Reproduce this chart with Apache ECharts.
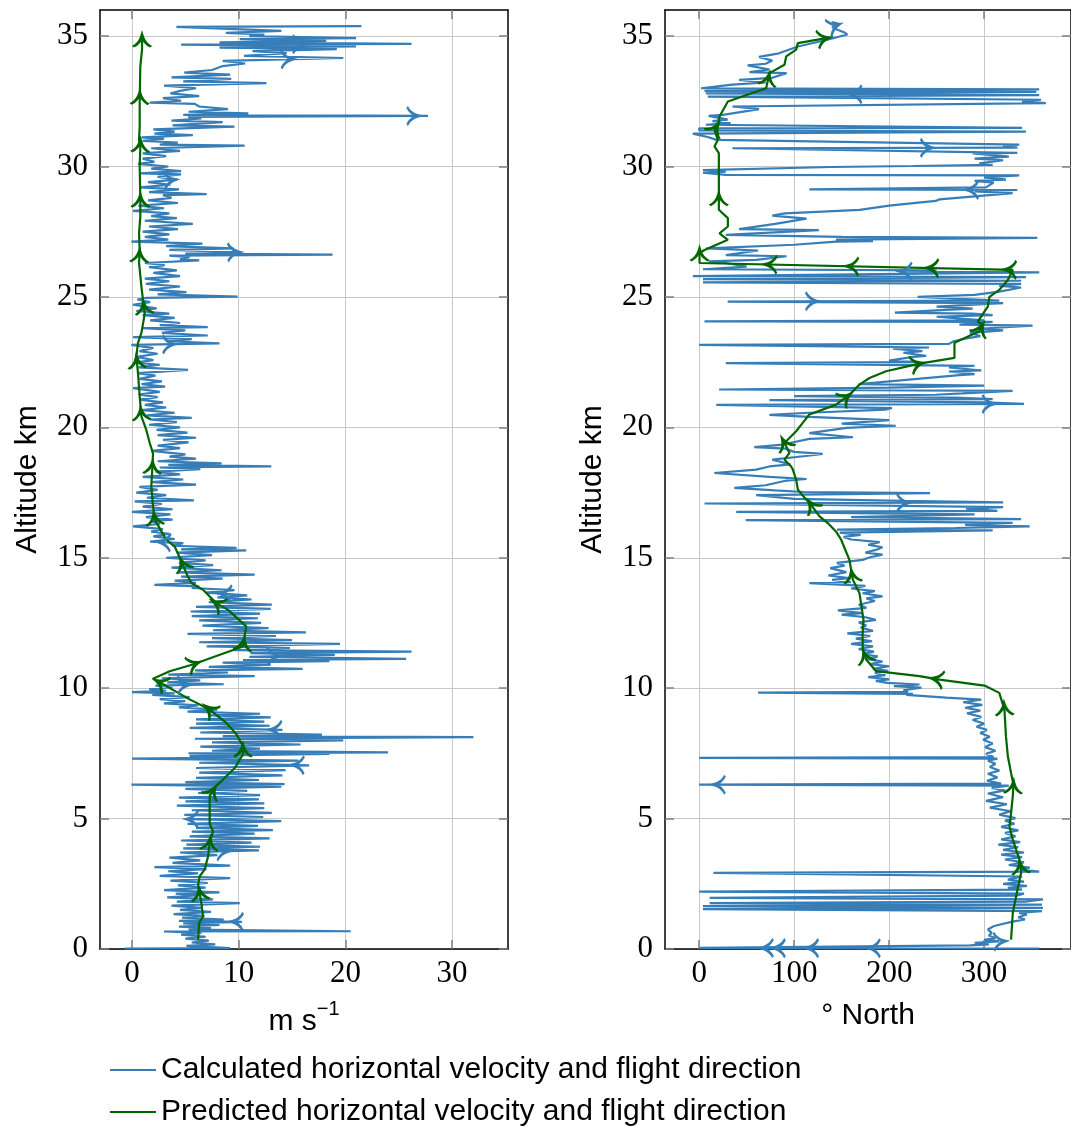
<!DOCTYPE html>
<html><head><meta charset="utf-8">
<script src="https://cdn.jsdelivr.net/npm/echarts@6/dist/echarts.min.js"></script>
<style>html,body{margin:0;padding:0;background:#fff}#c{width:1071px;height:1127px}</style>
</head><body><div id="c"></div>
<script>
// ---------- tick labels ----------
const speedTicks = [0, 10, 20, 30];
const dirTicks = [0, 100, 200, 300];
const altTicks = [0, 5, 10, 15, 20, 25, 30, 35];

// ---------- series names ----------
const calcName = 'Calculated horizontal velocity and flight direction';
const predName = 'Predicted horizontal velocity and flight direction';

// ---------- calculated horizontal speed [m/s, altitude km] ----------
const calcSpeed = [
[-0.7,0.02],[9.2,0.03],[5.1,0.12],[7.8,0.18],[5.6,0.25],[7.2,0.32],[5.0,0.4],[6.9,0.47],[4.6,0.55],[6.5,0.62],[3.0,0.67],[20.5,0.68],[5.3,0.74],[7.4,0.8],[4.4,0.86],[8.2,0.92],[4.8,0.98],[10.3,1.04],[4.4,1.08],[8.6,1.13],[4.7,1.2],[6.8,1.27],[3.9,1.34],[7.4,1.42],[4.5,1.5],[6.6,1.58],[3.7,1.66],[10.1,1.76],[4.2,1.82],[7.6,1.9],[3.3,1.98],[6.4,2.06],[4.1,2.12],[8.2,2.17],[3.0,2.26],[6.9,2.35],[4.3,2.44],[7.1,2.53],[3.6,2.62],[9.2,2.72],[2.6,2.8],[6.2,2.9],[3.4,2.98],[7.0,3.06],[2.1,3.14],[9.2,3.2],[3.8,3.3],[6.4,3.4],[3.5,3.5],[8.0,3.6],[4.5,3.7],[11.9,3.78],[4.8,3.86],[12.0,3.92],[5.1,4.0],[11.2,4.08],[4.6,4.16],[12.9,4.24],[5.4,4.32],[11.5,4.42],[5.6,4.5],[13.2,4.56],[6.0,4.64],[11.8,4.72],[5.2,4.8],[14.0,4.9],[5.4,4.98],[12.3,5.06],[4.9,5.14],[13.1,5.22],[5.6,5.32],[12.4,5.4],[4.2,5.5],[12.4,5.58],[5.0,5.66],[11.9,5.74],[4.4,5.8],[12.0,5.9],[6.2,5.98],[10.8,6.06],[5.0,6.14],[14.0,6.22],[-0.06,6.3],[14.3,6.32],[5.0,6.4],[11.9,6.48],[6.0,6.56],[14.1,6.66],[6.3,6.76],[14.4,6.86],[6.0,6.94],[16.6,7.04],[6.3,7.14],[15.6,7.22],[0.0,7.3],[10.1,7.34],[5.4,7.4],[18.5,7.48],[5.3,7.5],[24.0,7.54],[7.5,7.6],[12.0,7.68],[6.4,7.76],[15.8,7.84],[7.5,7.92],[19.8,8.0],[5.9,8.06],[32.0,8.12],[8.5,8.16],[17.8,8.22],[6.4,8.3],[14.1,8.4],[5.4,8.48],[12.9,8.56],[6.0,8.64],[12.4,8.72],[6.0,8.8],[13.0,8.88],[7.3,8.96],[12.0,9.02],[5.2,9.1],[8.0,9.18],[4.4,9.26],[6.2,9.34],[3.0,9.42],[5.0,9.5],[2.6,9.58],[5.4,9.66],[1.9,9.74],[4.0,9.8],[0.0,9.85],[3.2,9.9],[1.6,9.96],[3.8,10.04],[2.2,10.1],[8.6,10.15],[3.3,10.22],[6.4,10.3],[2.8,10.38],[11.5,10.46],[3.4,10.52],[9.0,10.6],[5.9,10.68],[16.0,10.74],[7.2,10.82],[13.0,10.9],[8.5,10.98],[18.5,11.04],[10.4,11.08],[25.7,11.12],[11.0,11.2],[19.0,11.28],[11.1,11.34],[26.2,11.4],[9.5,11.46],[14.8,11.54],[7.0,11.6],[19.5,11.7],[6.3,11.76],[15.0,11.84],[7.5,11.92],[13.5,12.0],[5.2,12.08],[16.3,12.14],[7.6,12.22],[12.8,12.3],[6.6,12.4],[12.1,12.5],[6.3,12.6],[11.8,12.68],[5.6,12.76],[12.0,12.86],[5.5,12.94],[13.0,13.04],[6.0,13.12],[13.1,13.2],[7.2,13.3],[11.2,13.4],[8.0,13.48],[10.8,13.56],[6.9,13.66],[9.6,13.76],[5.6,13.84],[6.3,13.9],[2.1,13.96],[6.0,14.04],[4.0,14.12],[8.5,14.2],[4.6,14.28],[11.5,14.35],[4.3,14.44],[8.4,14.52],[3.7,14.62],[7.6,14.72],[4.4,14.8],[6.9,14.9],[3.2,15.0],[7.5,15.1],[4.2,15.2],[10.7,15.28],[4.6,15.32],[9.8,15.38],[3.8,15.46],[4.8,15.56],[1.7,15.62],[4.0,15.72],[2.0,15.82],[3.5,15.92],[1.8,16.0],[2.9,16.1],[0.1,16.2],[2.6,16.3],[1.7,16.4],[3.8,16.46],[1.3,16.56],[3.6,16.66],[0.0,16.76],[3.8,16.86],[1.0,16.96],[2.8,17.06],[0.25,17.16],[5.8,17.2],[1.4,17.3],[3.2,17.4],[0.4,17.5],[2.4,17.6],[0.7,17.72],[6.0,17.8],[1.8,17.9],[4.8,18.0],[1.0,18.1],[4.5,18.2],[2.2,18.3],[6.4,18.4],[2.6,18.46],[13.06,18.5],[3.4,18.56],[8.4,18.62],[2.4,18.7],[6.0,18.8],[3.5,18.88],[5.0,18.96],[1.8,19.1],[4.5,19.2],[2.4,19.3],[5.3,19.42],[2.9,19.52],[6.0,19.6],[2.4,19.7],[5.2,19.8],[2.3,19.9],[4.5,20.0],[1.6,20.1],[4.2,20.2],[1.7,20.3],[5.6,20.36],[1.4,20.46],[4.0,20.56],[0.9,20.66],[3.2,20.76],[1.2,20.86],[2.9,20.96],[0.7,21.06],[2.4,21.16],[0.6,21.26],[2.6,21.36],[0.1,21.5],[3.1,21.56],[0.9,21.66],[2.8,21.76],[0.7,21.86],[2.2,21.98],[0.5,22.08],[5.25,22.2],[0.6,22.3],[2.6,22.4],[0.25,22.48],[2.0,22.58],[0.4,22.7],[2.4,22.82],[0.7,22.92],[2.0,23.04],[-0.06,23.16],[8.2,23.22],[3.4,23.3],[5.6,23.38],[0.1,23.46],[7.1,23.52],[2.8,23.62],[5.0,23.72],[1.0,23.8],[7.1,23.84],[2.6,23.92],[4.5,24.0],[1.7,24.1],[4.0,24.2],[1.0,24.3],[3.5,24.36],[0.4,24.46],[2.3,24.56],[0.1,24.7],[1.7,24.8],[0.5,24.9],[1.3,24.96],[9.9,25.01],[2.4,25.1],[5.1,25.18],[1.6,25.28],[4.5,25.4],[1.3,25.5],[3.5,25.6],[1.2,25.7],[4.5,25.8],[2.0,25.92],[4.2,26.02],[1.6,26.14],[3.06,26.22],[1.2,26.3],[6.3,26.4],[4.5,26.45],[5.4,26.52],[3.5,26.58],[18.8,26.62],[5.0,26.66],[10.0,26.72],[3.5,26.8],[9.5,26.86],[3.2,26.95],[6.6,27.04],[-0.06,27.12],[3.4,27.2],[1.2,27.3],[3.5,27.4],[1.0,27.5],[4.3,27.6],[1.6,27.7],[5.7,27.8],[1.2,27.92],[4.2,28.02],[1.8,28.1],[3.5,28.2],[0.1,28.3],[3.0,28.4],[0.6,28.5],[4.3,28.6],[1.5,28.7],[3.7,28.8],[2.9,28.9],[7.0,28.94],[1.6,29.02],[4.4,29.12],[0.7,29.2],[3.6,29.3],[1.5,29.4],[4.2,29.5],[2.4,29.6],[4.6,29.7],[0.7,29.74],[4.6,29.82],[1.8,29.92],[3.4,30.0],[0.56,30.1],[2.1,30.18],[1.0,30.3],[3.2,30.4],[1.0,30.5],[4.5,30.6],[1.8,30.7],[10.56,30.8],[2.6,30.84],[4.3,30.92],[1.0,30.98],[3.0,31.06],[0.9,31.12],[5.7,31.2],[2.1,31.26],[4.0,31.34],[2.0,31.42],[9.6,31.53],[3.8,31.58],[8.5,31.7],[3.7,31.76],[6.5,31.84],[5.25,31.9],[27.75,31.94],[4.8,31.98],[10.9,32.04],[5.3,32.1],[9.0,32.2],[6.3,32.3],[5.9,32.4],[1.66,32.45],[4.6,32.52],[2.9,32.62],[6.3,32.7],[3.6,32.8],[4.5,32.9],[6.0,33.0],[3.0,33.1],[12.6,33.2],[4.8,33.26],[9.3,33.36],[3.7,33.42],[9.2,33.52],[4.9,33.6],[7.5,33.7],[8.5,33.85],[10.6,33.95],[8.5,34.05],[19.8,34.16],[10.5,34.24],[14.5,34.35],[11.3,34.42],[19.2,34.5],[8.2,34.56],[21.0,34.6],[4.6,34.67],[26.2,34.7],[8.2,34.76],[18.2,34.82],[10.1,34.88],[21.0,34.92],[11.0,35.0],[12.4,35.06],[8.8,35.12],[14.0,35.2],[4.16,35.35],[21.5,35.38]
];

// ---------- predicted horizontal speed [m/s, altitude km] ----------
const predSpeed = [
[6.19,0.36],[6.3,1.0],[6.66,1.25],[6.5,1.76],[6.34,2.15],[6.2,2.47],[6.34,2.79],[6.8,3.04],[7.13,3.55],[7.28,4.07],[7.6,4.51],[7.28,4.8],[7.28,5.47],[7.28,5.86],[7.75,6.18],[8.53,6.5],[9.63,6.94],[10.4,7.46],[10.4,7.77],[9.8,8.22],[8.84,8.67],[7.28,9.18],[5.4,9.57],[3.22,10.08],[1.97,10.36],[3.53,10.65],[5.7,10.91],[7.9,11.23],[10.4,11.6],[10.7,12.37],[9.0,13.0],[7.9,13.26],[6.66,13.77],[5.56,14.03],[5.1,14.4],[4.7,14.8],[4.0,15.43],[3.2,15.7],[2.13,16.46],[1.97,16.97],[1.81,17.74],[1.9,18.38],[1.97,19.0],[1.66,19.4],[1.34,19.9],[0.88,20.42],[0.72,21.19],[0.56,22.08],[0.41,22.72],[0.56,23.24],[0.88,23.62],[1.1,24.13],[1.19,24.37],[1.03,24.88],[0.88,25.4],[0.66,26.3],[0.72,26.8],[0.66,27.44],[0.78,28.08],[0.78,28.72],[0.72,30.0],[0.78,30.77],[0.66,31.02],[0.72,31.53],[0.72,32.56],[0.78,33.84],[0.94,34.48],[0.94,34.92]
];

// ---------- calculated flight direction [deg North, altitude km] ----------
const calcDir = [
[358,0.02],[0,0.04],[285,0.14],[305,0.18],[290,0.24],[316,0.29],[300,0.35],[312,0.42],[305,0.52],[308,0.62],[304,0.75],[310,0.87],[318,0.95],[330,1.05],[343,1.13],[336,1.22],[345,1.32],[337,1.38],[361,1.45],[4,1.53],[362,1.58],[4,1.64],[361,1.7],[11,1.76],[345,1.82],[362,1.9],[11,1.96],[335,2.05],[342,2.12],[0,2.2],[340,2.28],[325,2.34],[345,2.42],[320,2.5],[342,2.58],[325,2.66],[340,2.78],[15,2.92],[358,2.97],[338,3.04],[348,3.12],[326,3.22],[342,3.32],[322,3.43],[340,3.52],[318,3.62],[342,3.7],[320,3.8],[336,3.9],[315,4.0],[338,4.1],[318,4.2],[333,4.32],[322,4.45],[336,4.55],[318,4.68],[332,4.8],[322,4.92],[333,5.02],[316,5.15],[328,5.28],[306,5.42],[324,5.55],[302,5.68],[320,5.82],[304,5.96],[322,6.08],[308,6.18],[326,6.26],[0,6.3],[318,6.34],[303,6.45],[314,6.58],[304,6.72],[316,6.84],[306,6.98],[312,7.1],[304,7.22],[314,7.3],[0,7.33],[310,7.36],[302,7.48],[312,7.6],[301,7.74],[309,7.88],[299,8.02],[306,8.14],[296,8.28],[303,8.4],[292,8.52],[300,8.64],[288,8.78],[297,8.9],[282,9.04],[296,9.14],[280,9.25],[298,9.36],[278,9.46],[297,9.56],[260,9.64],[218,9.74],[225,9.78],[62,9.83],[220,9.86],[215,9.92],[234,10.02],[205,10.08],[232,10.14],[198,10.2],[186,10.28],[200,10.34],[178,10.42],[196,10.5],[185,10.58],[199,10.66],[183,10.74],[200,10.84],[180,10.92],[193,11.02],[176,11.12],[188,11.22],[172,11.3],[184,11.4],[168,11.5],[183,11.6],[160,11.7],[182,11.8],[165,11.9],[180,12.0],[156,12.1],[183,12.2],[170,12.32],[176,12.4],[168,12.52],[186,12.62],[175,12.72],[150,12.82],[172,12.88],[146,12.98],[176,13.08],[168,13.2],[185,13.34],[176,13.44],[193,13.52],[172,13.64],[185,13.72],[160,13.82],[175,13.92],[116,14.03],[160,14.06],[140,14.15],[158,14.22],[136,14.32],[155,14.45],[138,14.6],[153,14.7],[145,14.8],[172,14.92],[180,15.02],[193,15.12],[175,15.2],[186,15.3],[193,15.4],[178,15.5],[190,15.6],[160,15.7],[152,15.8],[170,15.88],[148,15.96],[309,16.05],[145,16.08],[270,16.14],[348,16.2],[280,16.26],[330,16.34],[49,16.44],[339,16.48],[160,16.56],[290,16.66],[39,16.76],[314,16.8],[281,16.88],[320,16.94],[5.6,17.08],[320,17.12],[215,17.18],[100,17.26],[60,17.4],[243,17.48],[110,17.52],[80,17.58],[37,17.68],[70,17.78],[92,17.96],[113,18.02],[74,18.1],[16,18.25],[60,18.38],[74,18.5],[96,18.58],[77,18.76],[112,18.9],[130,18.98],[100,19.06],[91,19.18],[58,19.24],[88,19.34],[116,19.56],[162,19.62],[116,19.78],[155,19.98],[207,20.06],[150,20.14],[200,20.28],[116,20.4],[74,20.48],[116,20.56],[196,20.68],[203,20.74],[18,20.86],[342,20.9],[300,20.96],[74,21.04],[309,21.08],[270,21.14],[100,21.2],[249,21.25],[277,21.3],[330,21.4],[21,21.45],[200,21.52],[300,21.6],[168,21.66],[274,22.0],[290,22.04],[263,22.14],[297,22.18],[263,22.3],[290,22.36],[28,22.46],[232,22.5],[200,22.56],[225,22.7],[239,22.74],[215,22.86],[235,22.92],[204,23.02],[242,23.06],[0,23.16],[263,23.2],[268,23.3],[280,23.4],[296,23.5],[285,23.62],[320,23.72],[295,23.78],[351,23.9],[274,23.94],[309,24.04],[5.6,24.06],[300,24.1],[250,24.24],[309,24.3],[288,24.36],[206,24.4],[260,24.5],[288,24.55],[250,24.63],[320,24.76],[30,24.82],[316,24.86],[230,25.0],[290,25.08],[316,25.2],[339,25.36],[316,25.42],[339,25.5],[4,25.56],[339,25.62],[4,25.68],[344,25.76],[-6.7,25.8],[358,25.94],[214,25.98],[250,26.02],[4,26.06],[50,26.16],[28,26.3],[10,26.36],[60,26.42],[92,26.56],[28,26.6],[62,26.78],[7.4,26.86],[100,27.0],[144,27.12],[183,27.14],[144,27.2],[356,27.26],[150,27.3],[28,27.38],[126,27.56],[42,27.6],[80,27.8],[113,28.0],[77,28.12],[90,28.2],[169,28.34],[200,28.5],[249,28.68],[253,28.74],[330,28.98],[290,29.05],[335,29.1],[116,29.12],[302,29.2],[310,29.38],[290,29.45],[323,29.5],[300,29.58],[337,29.66],[28,29.68],[4,29.76],[28,29.8],[4,29.86],[139,29.98],[225,30.02],[309,30.06],[295,30.12],[320,30.24],[290,30.3],[326,30.38],[288,30.5],[335,30.52],[35,30.7],[335,30.72],[320,30.8],[337,30.84],[18,31.02],[10,31.12],[-6.7,31.26],[344,31.34],[0,31.38],[0,31.46],[340,31.48],[7,31.6],[33,31.66],[14,31.74],[30,31.8],[10,31.94],[25,31.98],[63,32.2],[35,32.3],[365,32.43],[340,32.5],[360,32.56],[9,32.68],[358,32.74],[7,32.8],[355,32.86],[5.6,32.9],[358,32.96],[2,33.0],[35,33.14],[70,33.22],[42,33.32],[77,33.4],[92,33.58],[53,33.62],[74,33.72],[51,33.88],[70,33.94],[77,34.06],[63,34.2],[84,34.34],[104,34.6],[135,34.86],[156,35.06],[153,35.14],[145,35.25],[140,35.35],[148,35.46],[140,35.54]
];

// ---------- predicted flight direction [deg North, altitude km] ----------
const predDir = [
[328.4,0.36],[330.2,1.38],[333.7,2.02],[339,2.92],[337.2,3.43],[330.2,4.19],[326.7,4.7],[328.4,5.22],[330.2,5.86],[330.9,6.3],[328.4,6.75],[325,7.39],[323,8.16],[321.4,9.18],[316,9.82],[300.4,10.1],[253,10.33],[232,10.46],[186.3,10.65],[175.8,11.1],[172.3,11.48],[172,12.0],[173,12.62],[168.8,13.64],[161.8,14.16],[158.2,14.92],[149.5,15.69],[144.2,16.0],[135.4,16.33],[126.7,16.59],[117.9,17.03],[112.6,17.23],[103.9,17.61],[102.1,17.99],[98.6,18.38],[96.8,18.5],[89.8,18.76],[95.1,19.02],[89.8,19.4],[102.1,19.85],[109,20.17],[116,20.49],[144.2,20.87],[158.2,21.25],[168.8,21.64],[179.3,21.89],[196.8,22.15],[232,22.44],[268.8,22.66],[268.8,23.24],[295,23.68],[298.6,23.94],[293.3,24.05],[303.9,24.63],[305.6,25.0],[316,25.27],[325,25.65],[330.2,26.04],[0.35,26.3],[0.35,26.68],[5.6,26.8],[30.2,27.19],[21.4,27.44],[30.2,27.7],[30.2,28.02],[20.7,28.34],[20.7,29.87],[20.7,30.51],[16.1,30.77],[19.6,31.02],[16.1,31.4],[19.6,31.6],[21.4,31.92],[30.2,32.49],[70.5,33.0],[74,33.58],[89.8,33.9],[91.6,34.22],[102.1,34.48],[103.9,34.73],[133.7,34.92]
];

// ---------- arrow-tip positions [x, altitude] ----------
const calcSpeedArrows = [[15.6,34.7],[14.5,34.1],[26.3,31.93],[3.5,29.5],[9.5,26.7],[3.4,23.2],[3.06,15.3],[8.8,13.64],[13.2,11.23],[4.8,10.0],[13.5,8.48],[15.6,7.07],[5.7,4.96],[8.5,3.68],[9.9,1.13]];
const predSpeedArrows = [[0.94,34.8],[0.66,32.6],[1.03,30.77],[0.72,28.66],[0.5,26.55],[1.2,24.56],[0.4,22.47],[0.88,20.49],[1.9,18.44],[2.06,16.46],[4.94,14.73],[8.06,13.2],[10.4,11.66],[5.72,10.91],[2.6,10.08],[7.28,9.12],[10.6,7.58],[7.6,5.98],[7.28,4.0],[6.34,2.08]];
const calcDirArrows = [[140.7,35.43],[165.3,32.8],[239,30.7],[288,29.1],[218,25.97],[118,24.82],[304,20.88],[214,17.08],[21.4,6.3],[316,0.29],[72,0.03],[84.6,0.03],[119.6,0.03],[184.6,0.03]];
const predDirArrows = [[130.2,34.92],[74,33.3],[14.4,31.47],[20.7,28.72],[0.35,26.6],[75.8,26.23],[161.8,26.16],[246,26.1],[328,26.04],[295,23.75],[228.4,22.47],[156.5,21.0],[89.8,19.34],[116,16.9],[163.6,14.28],[174,11.16],[251.2,10.33],[323,9.18],[330.2,6.18],[339,3.1]];

// ---------- styling ----------
const BLUE = '#377eb8', GREEN = '#006600';
const SANS = 'Liberation Sans', SERIF = 'Liberation Serif';
const gridColor = '#c8c8c8', tickColor = '#808080';

const chart = echarts.init(document.getElementById('c'), null, {renderer: 'canvas'});

function mainX(gridIndex, min, max, ticks, name, gap) {
  return {
    type: 'value', gridIndex, position: 'bottom', min, max,
    name, nameLocation: 'middle', nameGap: gap,
    nameTextStyle: {
      fontFamily: SANS, fontSize: 30, color: '#000',
      rich: {
        a: {fontFamily: SANS, fontSize: 30, color: '#000', verticalAlign: 'bottom'},
        sup: {fontFamily: SANS, fontSize: 20, color: '#000', verticalAlign: 'bottom', padding: [0, 0, 18, 0]}
      }
    },
    axisLine: {show: true, onZero: false, lineStyle: {color: '#000', width: 1.5}},
    axisTick: {show: true, inside: true, length: 9, customValues: ticks, lineStyle: {color: tickColor, width: 1.5}},
    axisLabel: {show: true, customValues: ticks, margin: 9, fontFamily: SERIF, fontSize: 31, color: '#000'},
    splitLine: {show: true, lineStyle: {color: gridColor, width: 1}}
  };
}
function mirrorX(gridIndex, min, max, ticks) {
  return {
    type: 'value', gridIndex, position: 'top', min, max,
    axisLine: {show: true, onZero: false, lineStyle: {color: '#000', width: 1.5}},
    axisTick: {show: true, inside: true, length: 9, customValues: ticks, lineStyle: {color: tickColor, width: 1.5}},
    axisLabel: {show: false}, splitLine: {show: false}
  };
}
function mainY(gridIndex) {
  return {
    type: 'value', gridIndex, position: 'left', min: 0, max: 36,
    name: 'Altitude km', nameLocation: 'middle', nameGap: 57,
    nameTextStyle: {fontFamily: SANS, fontSize: 30, color: '#000'},
    axisLine: {show: true, onZero: false, lineStyle: {color: '#000', width: 1.5}},
    axisTick: {show: true, inside: true, length: 9, customValues: altTicks, lineStyle: {color: tickColor, width: 1.5}},
    axisLabel: {show: true, customValues: altTicks, margin: 12, fontFamily: SERIF, fontSize: 31, color: '#000'},
    splitLine: {show: true, lineStyle: {color: gridColor, width: 1}}
  };
}
function mirrorY(gridIndex) {
  return {
    type: 'value', gridIndex, position: 'right', min: 0, max: 36,
    axisLine: {show: true, onZero: false, lineStyle: {color: '#000', width: 1.5}},
    axisTick: {show: true, inside: true, length: 9, customValues: altTicks, lineStyle: {color: tickColor, width: 1.5}},
    axisLabel: {show: false}, splitLine: {show: false}
  };
}

function lineSeries(name, data, xi, yi, color, w) {
  return {
    type: 'line', name, data, xAxisIndex: xi, yAxisIndex: yi,
    showSymbol: false, symbol: 'none',
    lineStyle: {color, width: w}, itemStyle: {color},
    clip: true, silent: true, z: color === GREEN ? 4 : 3
  };
}

const baseSeries = [
  lineSeries(calcName, calcSpeed, 0, 0, BLUE, 2.2),
  lineSeries(predName, predSpeed, 0, 0, GREEN, 2.2),
  lineSeries(calcName, calcDir, 2, 2, BLUE, 2.2),
  lineSeries(predName, predDir, 2, 2, GREEN, 2.2)
];

chart.setOption({
  animation: false,
  backgroundColor: '#fff',
  grid: [
    {left: 100, top: 10, width: 408, height: 939, containLabel: false},
    {left: 665, top: 10, width: 407, height: 939, containLabel: false}
  ],
  xAxis: [
    mainX(0, -3, 35.24, speedTicks, '{a|m s}{sup|\u22121}', 50),
    mirrorX(0, -3, 35.24, speedTicks),
    mainX(1, -36, 391.5, dirTicks, '{a|\u00b0 North}', 52),
    mirrorX(1, -36, 391.5, dirTicks)
  ],
  yAxis: [mainY(0), mirrorY(0), mainY(1), mirrorY(1)],
  legend: {
    data: [calcName, predName], orient: 'vertical', left: 105, top: 1050,
    width: 900, height: 200,
    icon: 'rect', itemWidth: 46, itemHeight: 2, itemGap: 12,
    textStyle: {fontFamily: SANS, fontSize: 30, color: '#000'},
    selectedMode: false
  },
  series: baseSeries
});

// arrow heads placed on the drawn lines, rotated along the local line direction
function arrowData(seriesIndex, data, arrows) {
  const px = data.map(p => chart.convertToPixel({seriesIndex}, p));
  return arrows.map(a => {
    const q = chart.convertToPixel({seriesIndex}, a);
    let best = null, bd = Infinity;
    for (let i = 0; i < px.length - 1; i++) {
      const A = px[i], B = px[i + 1];
      const dx = B[0] - A[0], dy = B[1] - A[1];
      const L2 = dx * dx + dy * dy;
      if (L2 < 1e-6) continue;
      let t = ((q[0] - A[0]) * dx + (q[1] - A[1]) * dy) / L2;
      t = Math.max(0, Math.min(1, t));
      const X = A[0] + t * dx, Y = A[1] + t * dy;
      const d = (X - q[0]) ** 2 + (Y - q[1]) ** 2;
      if (d < bd) { bd = d; best = {X, Y, dx, dy}; }
    }
    const v = chart.convertFromPixel({seriesIndex}, [best.X, best.Y]);
    const rot = Math.atan2(-best.dx, -best.dy) * 180 / Math.PI;
    return {value: v, symbolRotate: rot};
  });
}
function arrowSeries(id, seriesIndex, data, arrows, xi, yi, color) {
  return {
    type: 'scatter', id, name: id, xAxisIndex: xi, yAxisIndex: yi,
    data: arrowData(seriesIndex, data, arrows),
    symbol: 'path://M0,10 Q6,7 8,0 Q10,7 16,10', symbolSize: [18, 11],
    itemStyle: {color: 'rgba(0,0,0,0)', borderColor: color, borderWidth: 2.6, opacity: 1},
    silent: true, clip: false, z: color === GREEN ? 6 : 5
  };
}
chart.setOption({
  series: baseSeries.concat([
    arrowSeries('a0', 0, calcSpeed, calcSpeedArrows, 0, 0, BLUE),
    arrowSeries('a1', 1, predSpeed, predSpeedArrows, 0, 0, GREEN),
    arrowSeries('a2', 2, calcDir, calcDirArrows, 2, 2, BLUE),
    arrowSeries('a3', 3, predDir, predDirArrows, 2, 2, GREEN)
  ])
});
</script>
</body></html>
